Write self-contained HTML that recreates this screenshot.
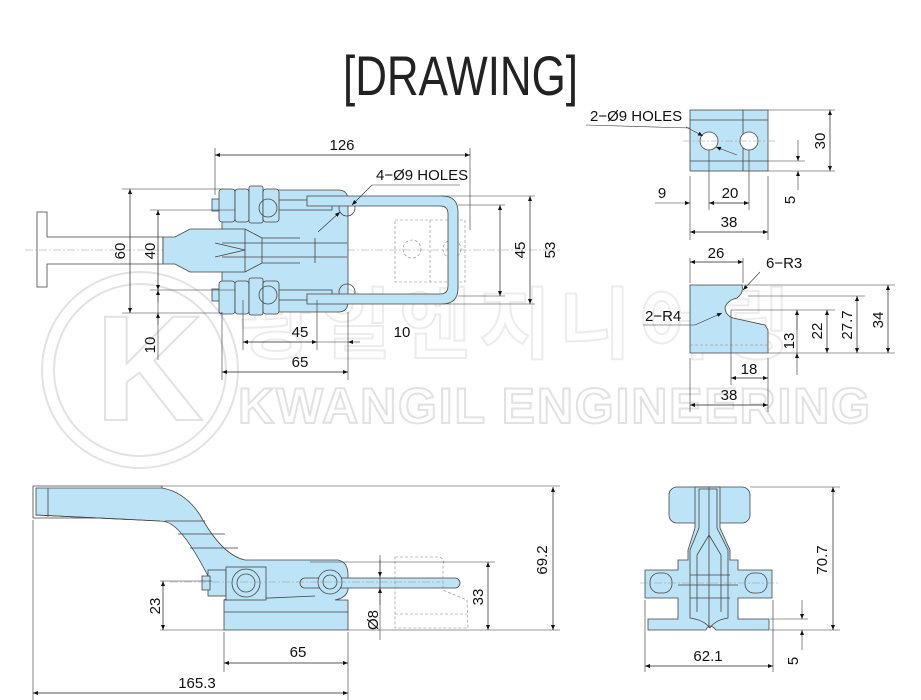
<!DOCTYPE html>
<html><head><meta charset="utf-8"><style>
html,body{margin:0;padding:0;background:#fff;}
svg{display:block;font-family:"Liberation Sans",sans-serif;}
.b{fill:#bde3f6;stroke:#444;stroke-width:0.8}
.o{fill:none;stroke:#444;stroke-width:0.8}
.d{fill:none;stroke:#888;stroke-width:0.6;stroke-dasharray:3,2}
.c{fill:none;stroke:#999;stroke-width:0.5;stroke-dasharray:8,2,2,2}
.e{stroke:#333;stroke-width:0.6;fill:none}
.dm{stroke:#222;stroke-width:0.7;fill:none;marker-start:url(#a);marker-end:url(#a)}
.t{font-size:15px;fill:#111;font-family:"Liberation Sans Narrow","Liberation Sans",sans-serif}
.w{fill:none;stroke:#e2e2e2;stroke-width:2}
</style></head><body>
<svg width="921" height="700" viewBox="0 0 921 700">
<defs><marker id="a" viewBox="0 0 10 10" refX="10" refY="5" markerWidth="9" markerHeight="5" orient="auto-start-reverse" markerUnits="userSpaceOnUse"><path d="M0,1 L10,5 L0,9z" fill="#111"/></marker></defs>

<!-- watermark -->
<circle cx="140" cy="370" r="98" class="w"/>
<circle cx="140" cy="370" r="86" class="w"/>
<text x="95" y="420" font-size="150" class="w" font-weight="bold">K</text>
<text x="240" y="352" font-size="78" class="w" style="stroke:#ececec" font-family="Noto Sans CJK KR,sans-serif" font-weight="bold" letter-spacing="8">광일엔지니어링</text>
<text x="238" y="423" font-size="50" class="w" font-weight="bold" letter-spacing="3" textLength="635">KWANGIL ENGINEERING</text>

<text x="343" y="95" font-size="56" textLength="235" lengthAdjust="spacingAndGlyphs" fill="#222" font-family="Liberation Sans Narrow,Liberation Sans,sans-serif">[DRAWING]</text>

<!-- ===== TOP LEFT VIEW ===== -->
<line class="e" x1="215" y1="148" x2="215" y2="195"/><line class="e" x1="470" y1="148" x2="470" y2="230"/>
<line class="dm" x1="215" y1="155" x2="470" y2="155"/><text class="t" x="342" y="150" text-anchor="middle">126</text>
<path class="o" stroke="#888" d="M37,212 H47 V237 H163 V264 H47 V287 H37 Z"/>
<line class="c" x1="25" y1="250" x2="560" y2="250"/>
<path class="b" d="M163,237 L175,237 L190,229 L222,229 L222,190 L338,190 Q348,190 348,200 L348,302 Q348,312 338,312 L222,312 L222,272 L190,272 L175,264 L163,264 Z"/>
<path class="o" d="M222,229 L245,229 L262,238 L300,238 M222,272 L245,272 L262,263 L300,263 M215,243 L245,250 L215,257 M222,243 H347 M222,257 H347 M245,229 V272 M262,238 V263 M315,238 V263"/>
<rect class="b" x="232" y="200" width="100" height="10"/><rect class="b" x="232" y="290" width="100" height="10"/>
<rect class="b" x="212" y="199" width="8" height="12"/><rect class="b" x="212" y="289" width="8" height="12"/>
<g class="b"><rect x="219" y="189" width="16" height="33" rx="3"/><rect x="235" y="189" width="14" height="33" rx="3"/><rect x="249" y="186" width="14" height="37" rx="2"/><rect x="263" y="189" width="16" height="33" rx="3"/>
<rect x="219" y="281" width="16" height="33" rx="3"/><rect x="235" y="281" width="14" height="33" rx="3"/><rect x="249" y="278" width="14" height="37" rx="2"/><rect x="263" y="281" width="16" height="33" rx="3"/></g>
<circle class="o" cx="268" cy="208" r="9"/><circle class="o" cx="268" cy="295" r="9"/>
<circle class="o" cx="347" cy="208" r="8"/><circle class="o" cx="347" cy="292" r="8"/>
<rect class="d" x="395" y="220" width="70" height="62"/><line class="d" x1="430" y1="220" x2="430" y2="282"/>
<circle class="d" cx="412" cy="249" r="9"/><circle class="d" cx="452" cy="249" r="9"/>
<path class="b" d="M307,196 L442,196 Q458,196 458,212 L458,288 Q458,304 442,304 L307,304 L307,294 L440,294 Q448,294 448,286 L448,214 Q448,206 440,206 L307,206 Z"/>
<text class="t" x="376" y="180">4−Ø9 HOLES</text><line class="e" x1="372" y1="185" x2="460" y2="185"/>
<line class="e" x1="372" y1="185" x2="352" y2="205" marker-end="url(#a)"/><line class="e" x1="318" y1="232" x2="340" y2="212" marker-end="url(#a)"/>
<line class="e" x1="122" y1="189" x2="222" y2="189"/><line class="e" x1="122" y1="313" x2="222" y2="313"/>
<line class="e" x1="150" y1="210" x2="235" y2="210"/><line class="e" x1="150" y1="290" x2="235" y2="290"/>
<line class="dm" x1="130" y1="189" x2="130" y2="313"/><text class="t" transform="translate(125,251) rotate(-90)" text-anchor="middle">60</text>
<line class="dm" x1="158" y1="210" x2="158" y2="290"/><text class="t" transform="translate(155,251) rotate(-90)" text-anchor="middle">40</text>
<line class="e" x1="158" y1="290" x2="158" y2="360"/><line class="e" x1="158" y1="302" x2="158" y2="290" marker-end="url(#a)"/>
<line class="e" x1="158" y1="325" x2="158" y2="313" marker-end="url(#a)"/><text class="t" transform="translate(155,345) rotate(-90)" text-anchor="middle">10</text>
<line class="e" x1="458" y1="205" x2="505" y2="205"/><line class="e" x1="458" y1="296" x2="505" y2="296"/>
<line class="e" x1="442" y1="196" x2="535" y2="196"/><line class="e" x1="442" y1="304" x2="535" y2="304"/>
<line class="dm" x1="500" y1="205" x2="500" y2="296"/><text class="t" transform="translate(525,250) rotate(-90)" text-anchor="middle">45</text>
<line class="dm" x1="530" y1="196" x2="530" y2="304"/><text class="t" transform="translate(555,250) rotate(-90)" text-anchor="middle">53</text>
<line class="e" x1="243" y1="300" x2="243" y2="350"/><line class="e" x1="317" y1="300" x2="317" y2="350"/><line class="e" x1="348" y1="312" x2="348" y2="380"/><line class="e" x1="222" y1="312" x2="222" y2="380"/>
<line class="dm" x1="243" y1="342" x2="317" y2="342"/><text class="t" x="300" y="337" text-anchor="middle">45</text>
<line class="e" x1="317" y1="342" x2="348" y2="342"/><text class="t" x="402" y="337" text-anchor="middle">10</text>
<line class="e" x1="360" y1="342" x2="348" y2="342" marker-end="url(#a)"/>
<line class="dm" x1="222" y1="372" x2="348" y2="372"/><text class="t" x="300" y="367" text-anchor="middle">65</text>

<!-- ===== TOP RIGHT BLOCK ===== -->
<rect class="b" x="690" y="110" width="78" height="61"/>
<line class="o" x1="690" y1="120" x2="768" y2="120"/><line class="o" x1="690" y1="161" x2="768" y2="161"/><line class="o" x1="743" y1="110" x2="743" y2="171"/>
<circle cx="709" cy="141" r="9" fill="#fff" stroke="#444" stroke-width="0.8"/><circle cx="749" cy="141" r="9" fill="#fff" stroke="#444" stroke-width="0.8"/>
<line class="c" x1="683" y1="141" x2="775" y2="141"/>
<text class="t" x="590" y="121">2−Ø9 HOLES</text><line class="e" x1="586" y1="125" x2="690" y2="128"/>
<line class="e" x1="686" y1="127" x2="703" y2="136" marker-end="url(#a)"/><line class="e" x1="737" y1="155" x2="716" y2="147" marker-end="url(#a)"/>
<line class="e" x1="768" y1="110" x2="835" y2="110"/><line class="e" x1="768" y1="171" x2="835" y2="171"/><line class="e" x1="768" y1="161" x2="805" y2="161"/>
<line class="dm" x1="830" y1="110" x2="830" y2="171"/><text class="t" transform="translate(825,141) rotate(-90)" text-anchor="middle">30</text>
<line class="e" x1="798" y1="140" x2="798" y2="161" marker-end="url(#a)"/><line class="e" x1="798" y1="190" x2="798" y2="171" marker-end="url(#a)"/><text class="t" transform="translate(795,200) rotate(-90)" text-anchor="middle">5</text>
<line class="e" x1="690" y1="176" x2="690" y2="240"/><line class="e" x1="768" y1="176" x2="768" y2="240"/><line class="e" x1="709" y1="150" x2="709" y2="210"/><line class="e" x1="749" y1="150" x2="749" y2="210"/>
<line class="e" x1="655" y1="203" x2="690" y2="203" marker-end="url(#a)"/><text class="t" x="662" y="198" text-anchor="middle">9</text>
<line class="dm" x1="709" y1="203" x2="749" y2="203"/><text class="t" x="730" y="198" text-anchor="middle">20</text>
<line class="dm" x1="690" y1="232" x2="768" y2="232"/><text class="t" x="729" y="227" text-anchor="middle">38</text>

<!-- ===== MID RIGHT BLOCK ===== -->
<path class="b" d="M690,285 L742,285 Q744,293 737,298 Q728,300 725,307 Q725,315 733,318 L765,325 L768,330 L768,353 L690,353 Z"/>
<line class="d" x1="690" y1="345" x2="768" y2="345"/>
<line class="e" x1="690" y1="258" x2="690" y2="283"/><line class="e" x1="743" y1="258" x2="743" y2="283"/>
<line class="dm" x1="690" y1="262" x2="743" y2="262"/><text class="t" x="716" y="258" text-anchor="middle">26</text>
<text class="t" x="766" y="268">6−R3</text><line class="e" x1="760" y1="272" x2="743" y2="290" marker-end="url(#a)"/>
<text class="t" x="645" y="321">2−R4</text><line class="e" x1="643" y1="325" x2="695" y2="325"/><line class="e" x1="695" y1="325" x2="722" y2="313" marker-end="url(#a)"/>
<line class="e" x1="742" y1="285" x2="895" y2="285"/><line class="e" x1="748" y1="296" x2="865" y2="296"/><line class="e" x1="731" y1="310" x2="835" y2="310"/><line class="e" x1="768" y1="353" x2="895" y2="353"/>
<line class="e" x1="797" y1="310" x2="797" y2="353"/><line class="e" x1="797" y1="330" x2="797" y2="310" marker-end="url(#a)"/><line class="e" x1="797" y1="375" x2="797" y2="353" marker-end="url(#a)"/>
<text class="t" transform="translate(794,341) rotate(-90)" text-anchor="middle">13</text>
<line class="dm" x1="827" y1="310" x2="827" y2="353"/><text class="t" transform="translate(822,331) rotate(-90)" text-anchor="middle">22</text>
<line class="dm" x1="857" y1="296" x2="857" y2="353"/><text class="t" transform="translate(852,325) rotate(-90)" text-anchor="middle">27.7</text>
<line class="dm" x1="888" y1="285" x2="888" y2="353"/><text class="t" transform="translate(883,320) rotate(-90)" text-anchor="middle">34</text>
<line class="e" x1="731" y1="310" x2="731" y2="385"/><line class="e" x1="690" y1="358" x2="690" y2="412"/><line class="e" x1="768" y1="358" x2="768" y2="412"/>
<line class="dm" x1="731" y1="378" x2="768" y2="378"/><text class="t" x="749" y="374" text-anchor="middle">18</text>
<line class="dm" x1="690" y1="405" x2="768" y2="405"/><text class="t" x="729" y="400" text-anchor="middle">38</text>

<!-- ===== BOTTOM LEFT SIDE VIEW ===== -->
<path class="o" stroke="#999" d="M33,486 L162,486 L162,518 L33,518 Z"/>
<path class="b" d="M36,488 L162,488 Q185,492 200,515 Q222,555 245,560 L338,560 Q348,562 348,575 L348,590 Q346,598 335,600 L335,600 L348,600 L348,630 L224,630 L224,600 L232,596 Q215,590 210,580 Q190,540 175,527 Q168,521 160,521 L36,515 Z"/>
<path class="o" d="M48,488 V517 M36,515 L160,521 M165,521 H205 M178,534 H225 M190,548 H238 M224,612 H348 M224,600 L315,596"/>
<rect class="b" x="300" y="578" width="160" height="10" rx="5"/>
<rect class="b" x="208" y="570" width="18" height="26"/><rect class="b" x="202" y="576" width="8" height="14"/><rect class="b" x="226" y="567" width="40" height="33"/>
<circle class="o" cx="246" cy="583" r="14"/><circle class="o" cx="246" cy="583" r="9"/><circle class="b" cx="330" cy="582" r="12"/><circle class="o" cx="330" cy="582" r="7"/>
<path class="d" d="M395,557 L440,557 Q445,560 443,566 L443,590 L467,600 L468,628 L395,628 Z M395,614 H467"/>
<line class="c" x1="170" y1="582" x2="440" y2="582"/>
<line class="e" x1="33" y1="520" x2="33" y2="700"/><line class="e" x1="348" y1="632" x2="348" y2="700"/><line class="e" x1="224" y1="632" x2="224" y2="672"/>
<line class="e" x1="162" y1="486" x2="560" y2="486"/><line class="e" x1="348" y1="630" x2="560" y2="630"/><line class="e" x1="160" y1="630" x2="224" y2="630"/><line class="e" x1="160" y1="581" x2="212" y2="581"/>
<line class="e" x1="310" y1="562" x2="495" y2="562"/>
<line class="dm" x1="553" y1="487" x2="553" y2="630"/><text class="t" transform="translate(547,560) rotate(-90)" text-anchor="middle">69.2</text>
<line class="dm" x1="488" y1="562" x2="488" y2="630"/><text class="t" transform="translate(483,597) rotate(-90)" text-anchor="middle">33</text>
<line class="dm" x1="163" y1="581" x2="163" y2="630"/><text class="t" transform="translate(160,606) rotate(-90)" text-anchor="middle">23</text>
<line class="e" x1="380" y1="555" x2="380" y2="640"/><line class="e" x1="380" y1="560" x2="380" y2="577" marker-end="url(#a)"/><line class="e" x1="380" y1="605" x2="380" y2="588" marker-end="url(#a)"/>
<text class="t" transform="translate(378,620) rotate(-90)" text-anchor="middle">Ø8</text>
<line class="dm" x1="224" y1="663" x2="348" y2="663"/><text class="t" x="298" y="657" text-anchor="middle">65</text>
<line class="dm" x1="33" y1="693" x2="348" y2="693"/><text class="t" x="197" y="688" text-anchor="middle">165.3</text>

<!-- ===== BOTTOM RIGHT FRONT VIEW ===== -->
<rect class="b" x="669" y="487" width="81" height="36" rx="8"/>
<path class="b" d="M695,487 H720 V528 L730,550 V560 H738 V570 H772 V598 H738 V619 H769 V630 H716 Q709,622 706,630 H648 V619 H678 V598 H645 V570 H678 V560 H688 V550 L695,528 Z"/>
<path class="o" d="M699,489 H717 V528 L728,550 V618 Q715,620 710,628 Q704,620 690,618 V550 L699,528 Z M709,535 L697,555 V612 M709,535 L721,555 V612 M709,487 V628 M678,585 H738 M690,575 H730 M690,598 H730"/>
<rect class="b" x="650" y="573" width="22" height="20" rx="9"/><rect class="b" x="745" y="573" width="22" height="20" rx="9"/>
<line class="c" x1="640" y1="583" x2="780" y2="583"/>
<line class="e" x1="750" y1="487" x2="840" y2="487"/><line class="e" x1="770" y1="630" x2="840" y2="630"/><line class="e" x1="770" y1="619" x2="808" y2="619"/>
<line class="dm" x1="833" y1="487" x2="833" y2="630"/><text class="t" transform="translate(827,560) rotate(-90)" text-anchor="middle">70.7</text>
<line class="e" x1="802" y1="600" x2="802" y2="619" marker-end="url(#a)"/><line class="e" x1="802" y1="650" x2="802" y2="630" marker-end="url(#a)"/><text class="t" transform="translate(798,661) rotate(-90)" text-anchor="middle">5</text>
<line class="e" x1="645" y1="600" x2="645" y2="672"/><line class="e" x1="773" y1="600" x2="773" y2="672"/>
<line class="dm" x1="645" y1="666" x2="773" y2="666"/><text class="t" x="708" y="661" text-anchor="middle">62.1</text>
</svg>
</body></html>
